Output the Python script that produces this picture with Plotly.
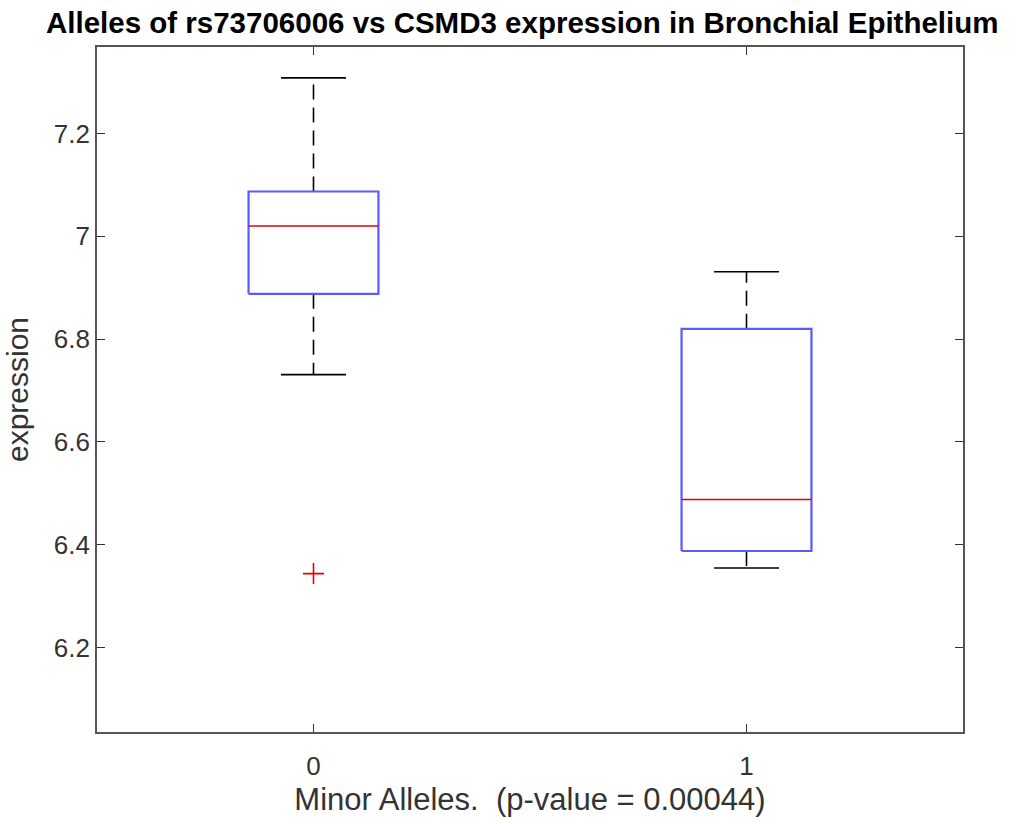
import plotly.graph_objects as go

# Data
positions = [0, 1]
tick_labels = ["0", "1"]
upper_whisker = [7.308, 6.931]
q3 = [7.087, 6.820]
median = [7.020, 6.488]
q1 = [6.888, 6.388]
lower_whisker = [6.731, 6.355]
outlier_x = [0]
outlier_y = [6.344]

half_box = 0.15
half_cap = 0.075

fig = go.Figure()

for p, hi, a, m, b, lo in zip(positions, upper_whisker, q3, median, q1, lower_whisker):
    # whiskers (dashed)
    fig.add_trace(go.Scatter(x=[p, p], y=[a, hi], mode="lines",
                             line=dict(color="black", width=1.6, dash="15px,8px"),
                             showlegend=False, hoverinfo="skip"))
    fig.add_trace(go.Scatter(x=[p, p], y=[b, lo], mode="lines",
                             line=dict(color="black", width=1.6, dash="15px,8px"),
                             showlegend=False, hoverinfo="skip"))
    # caps
    fig.add_trace(go.Scatter(x=[p - half_cap, p + half_cap], y=[hi, hi], mode="lines",
                             line=dict(color="black", width=1.6),
                             showlegend=False, hoverinfo="skip"))
    fig.add_trace(go.Scatter(x=[p - half_cap, p + half_cap], y=[lo, lo], mode="lines",
                             line=dict(color="black", width=1.6),
                             showlegend=False, hoverinfo="skip"))
    # box
    fig.add_trace(go.Scatter(x=[p - half_box, p + half_box, p + half_box, p - half_box, p - half_box],
                             y=[b, b, a, a, b], mode="lines",
                             line=dict(color="rgb(90,90,255)", width=2.2),
                             showlegend=False, hoverinfo="skip"))
    # median
    fig.add_trace(go.Scatter(x=[p - half_box, p + half_box], y=[m, m], mode="lines",
                             line=dict(color="rgb(230,0,0)", width=1.6),
                             showlegend=False, hoverinfo="skip"))

fig.add_trace(go.Scatter(x=outlier_x, y=outlier_y, mode="markers",
                         marker=dict(symbol="cross-thin", size=15,
                                     line=dict(color="rgb(230,0,0)", width=1.6)),
                         showlegend=False, hoverinfo="skip"))

axis_common = dict(showline=True, linecolor="#555555", linewidth=1.6, mirror="ticks",
                   ticks="inside", ticklen=8, tickwidth=1.3, tickcolor="#333333",
                   showgrid=False, zeroline=False,
                   tickfont=dict(family="Liberation Sans", size=26, color="#333333"))

fig.update_layout(
    width=1020, height=824,
    margin=dict(l=97, r=57, t=47, b=92),
    paper_bgcolor="white", plot_bgcolor="white",
    title=dict(text="<b>Alleles of rs73706006 vs CSMD3 expression in Bronchial Epithelium</b>",
               x=0.512, xanchor="center", y=0.973, yanchor="middle",
               font=dict(family="Liberation Sans", size=29.5, color="black")),
    xaxis=dict(range=[-0.5, 1.5], tickmode="array", tickvals=positions, ticktext=tick_labels,
               ticklabelstandoff=10,
               title=dict(text="Minor Alleles.  (p-value = 0.00044)", standoff=8,
                          font=dict(family="Liberation Sans", size=31, color="#333333")),
               **axis_common),
    yaxis=dict(range=[6.036, 7.368], tickmode="array", tickvals=[6.2, 6.4, 6.6, 6.8, 7.0, 7.2],
               ticktext=["6.2", "6.4", "6.6", "6.8", "7", "7.2"],
               title=dict(text="expression", standoff=16,
                          font=dict(family="Liberation Sans", size=30, color="#333333")),
               **axis_common),
)

fig.write_html("out.html")
